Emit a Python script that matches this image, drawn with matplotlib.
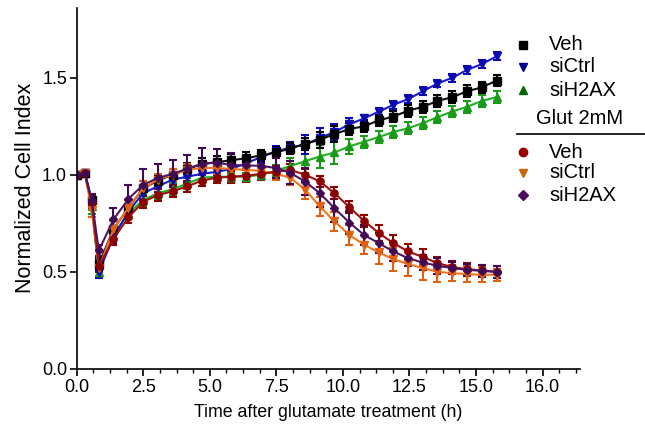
import matplotlib
matplotlib.use("Agg")
import matplotlib.pyplot as plt
from matplotlib.lines import Line2D
import numpy as np

plt.rcParams['font.family'] = ['Liberation Sans', 'DejaVu Sans']

t = [0, 0.30, 0.56, 0.83, 1.38, 1.94, 2.49, 3.04, 3.60, 4.15, 4.70, 5.26, 5.81, 6.36,
     6.92, 7.47, 8.02, 8.58, 9.13, 9.68, 10.24, 10.79, 11.34, 11.89, 12.45, 13.00,
     13.55, 14.11, 14.66, 15.21, 15.77]

veh = [1.0, 1.01, 0.87, 0.54, 0.72, 0.83, 0.93, 0.97, 1.00, 1.03, 1.055, 1.065, 1.075,
       1.085, 1.10, 1.115, 1.135, 1.16, 1.18, 1.21, 1.235, 1.25, 1.28, 1.30, 1.33, 1.35,
       1.38, 1.40, 1.43, 1.45, 1.485]
veh_err = [0.01, 0.01, 0.03, 0.03, 0.04, 0.04, 0.04, 0.03, 0.03, 0.03, 0.03, 0.03, 0.03,
           0.03, 0.03, 0.03, 0.03, 0.03, 0.04, 0.04, 0.03, 0.03, 0.03, 0.03, 0.03, 0.03,
           0.03, 0.03, 0.03, 0.03, 0.03]

sictrl = [1.0, 1.01, 0.86, 0.50, 0.68, 0.81, 0.905, 0.94, 0.975, 0.99, 1.005, 1.015, 1.03,
          1.06, 1.09, 1.12, 1.14, 1.155, 1.19, 1.22, 1.26, 1.29, 1.325, 1.36, 1.39, 1.43,
          1.47, 1.50, 1.54, 1.57, 1.61]
sictrl_err = [0.01, 0.01, 0.03, 0.03, 0.03, 0.03, 0.03, 0.03, 0.03, 0.03, 0.03, 0.03, 0.03,
              0.03, 0.03, 0.03, 0.03, 0.05, 0.05, 0.04, 0.03, 0.02, 0.02, 0.02, 0.02, 0.02,
              0.02, 0.02, 0.02, 0.02, 0.02]

sih2ax = [1.0, 1.01, 0.84, 0.50, 0.69, 0.80, 0.87, 0.905, 0.925, 0.955, 0.985, 0.99, 0.99,
          0.99, 1.0, 1.02, 1.045, 1.07, 1.094, 1.115, 1.146, 1.17, 1.194, 1.22, 1.24, 1.266,
          1.297, 1.326, 1.35, 1.38, 1.40]
sih2ax_err = [0.01, 0.01, 0.04, 0.03, 0.03, 0.03, 0.03, 0.03, 0.03, 0.03, 0.02, 0.02, 0.02,
              0.02, 0.02, 0.03, 0.04, 0.06, 0.06, 0.06, 0.04, 0.03, 0.03, 0.03, 0.03, 0.03,
              0.03, 0.03, 0.03, 0.03, 0.03]

glut_veh = [1.0, 1.01, 0.86, 0.53, 0.67, 0.78, 0.86, 0.895, 0.915, 0.94, 0.97, 0.985, 0.99,
            0.995, 1.005, 1.015, 1.025, 1.0, 0.966, 0.905, 0.833, 0.763, 0.70, 0.648, 0.605,
            0.576, 0.545, 0.524, 0.514, 0.507, 0.50]
glut_veh_err = [0.01, 0.01, 0.03, 0.03, 0.03, 0.03, 0.03, 0.03, 0.03, 0.03, 0.03, 0.03, 0.03,
                0.03, 0.03, 0.03, 0.03, 0.03, 0.03, 0.03, 0.03, 0.03, 0.04, 0.04, 0.04, 0.04,
                0.03, 0.03, 0.03, 0.03, 0.03]

glut_sictrl = [1.0, 1.01, 0.82, 0.52, 0.72, 0.83, 0.93, 0.975, 1.0, 1.025, 1.035, 1.035,
               1.03, 1.025, 1.02, 1.005, 0.985, 0.923, 0.837, 0.76, 0.69, 0.64, 0.60, 0.565,
               0.54, 0.519, 0.50, 0.493, 0.488, 0.485, 0.485]
glut_sictrl_err = [0.01, 0.01, 0.04, 0.04, 0.04, 0.04, 0.04, 0.03, 0.03, 0.03, 0.03, 0.03,
                   0.03, 0.03, 0.03, 0.03, 0.04, 0.05, 0.05, 0.05, 0.05, 0.05, 0.06, 0.06,
                   0.06, 0.06, 0.05, 0.04, 0.04, 0.04, 0.03]

glut_sih2ax = [1.0, 1.01, 0.87, 0.61, 0.77, 0.875, 0.948, 0.983, 1.005, 1.03, 1.057, 1.063,
               1.05, 1.048, 1.046, 1.035, 1.01, 0.965, 0.905, 0.828, 0.754, 0.69, 0.648,
               0.605, 0.57, 0.548, 0.531, 0.519, 0.51, 0.505, 0.50]
glut_sih2ax_err = [0.01, 0.01, 0.03, 0.03, 0.06, 0.07, 0.08, 0.07, 0.07, 0.07, 0.08, 0.07,
                   0.06, 0.05, 0.05, 0.05, 0.06, 0.07, 0.07, 0.07, 0.06, 0.05, 0.05, 0.05,
                   0.04, 0.04, 0.04, 0.03, 0.03, 0.03, 0.03]

xtick_pos = [0, 2.5, 5.0, 7.5, 10.0, 12.5, 15.0, 17.5]
xtick_labels = ['0.0', '2.5', '5.0', '7.5', '10.0', '12.5', '15.0', '16.0']
ytick_pos = [0.0, 0.5, 1.0, 1.5]
ytick_labels = ['0.0', '0.5', '1.0', '1.5']

legend_top = ['Veh', 'siCtrl', 'siH2AX']
legend_bottom = ['Veh', 'siCtrl', 'siH2AX']
legend_title = 'Glut 2mM'

fig = plt.figure(figsize=(6.45, 4.36), dpi=100)
ax = fig.add_axes([0.119, 0.154, 0.780, 0.828])

series = [
    (sih2ax, sih2ax_err, '#22b022', '#1a9a1a', '^'),
    (sictrl, sictrl_err, '#1a1ad0', '#0a0ab0', 'v'),
    (veh, veh_err, '#101010', '#000000', 's'),
    (glut_sictrl, glut_sictrl_err, '#f27420', '#e06010', 'v'),
    (glut_veh, glut_veh_err, '#a01010', '#8c0000', 'o'),
    (glut_sih2ax, glut_sih2ax_err, '#4e1563', '#400a55', 'D'),
]
for y, e, lc, mc, m in series:
    ms = 4.5 if m == 'D' else 5.2
    ax.errorbar(t, y, yerr=e, color=lc, ecolor=mc, marker=m, markersize=ms,
                markerfacecolor=mc, markeredgecolor=mc, linewidth=1.5,
                elinewidth=1.5, capsize=3, capthick=1.5)

ax.set_xlim(0, 18.9)
ax.set_ylim(0, 1.86)
ax.spines['top'].set_visible(False)
ax.spines['right'].set_visible(False)
ax.spines['left'].set_linewidth(1.2)
ax.spines['bottom'].set_linewidth(1.2)
ax.set_xticks(xtick_pos)
ax.set_xticklabels(xtick_labels)
ax.set_xticks(np.arange(0, 19.0, 0.625), minor=True)
ax.set_yticks(ytick_pos)
ax.set_yticklabels(ytick_labels)
ax.tick_params(axis='both', which='major', direction='out', length=5, width=1.2,
               labelsize=13, pad=2)
ax.tick_params(axis='x', which='minor', direction='out', length=3, width=1.0)
ax.set_xlabel('Time after glutamate treatment (h)', fontsize=12.8, labelpad=6)
ax.set_ylabel('Normalized Cell Index', fontsize=15.5, labelpad=4)

# custom legend
top_colors = ['#000000', '#00008b', '#006400']
top_markers = ['s', 'v', '^']
bot_colors = ['#9b0000', '#c86400', '#4b0a5a']
bot_markers = ['o', 'v', 'D']
W, H = 645.0, 436.0
mx, tx = 523 / W, 549 / W
top_rows = [45, 67, 90]
bot_rows = [152, 173, 195]
for lab, c, m, r in zip(legend_top, top_colors, top_markers, top_rows):
    yy = 1 - r / H
    fig.add_artist(Line2D([mx], [yy], marker=m, color=c, markersize=6 if m != 'D' else 5,
                          linestyle='none', transform=fig.transFigure))
    fig.text(tx, yy, lab, fontsize=14.5, va='center', ha='left')
fig.text(580 / W, 1 - 118 / H, legend_title, fontsize=14.5, va='center', ha='center')
fig.add_artist(Line2D([517 / W, 645 / W], [1 - 134 / H, 1 - 134 / H], color='black',
                      linewidth=1.2, transform=fig.transFigure))
for lab, c, m, r in zip(legend_bottom, bot_colors, bot_markers, bot_rows):
    yy = 1 - r / H
    fig.add_artist(Line2D([mx], [yy], marker=m, color=c, markersize=6 if m != 'D' else 5,
                          linestyle='none', transform=fig.transFigure))
    fig.text(tx, yy, lab, fontsize=14.5, va='center', ha='left')

fig.savefig('out.png', dpi=100)
